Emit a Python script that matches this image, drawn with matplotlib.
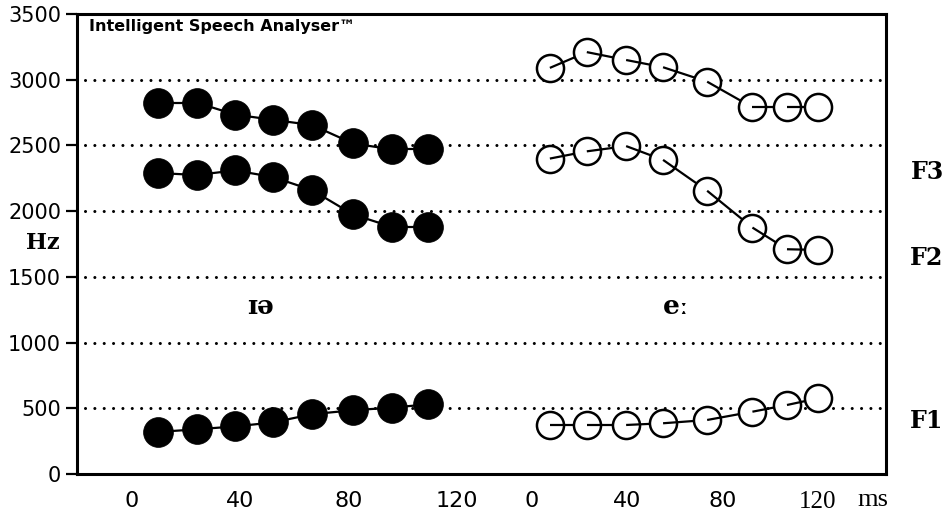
import matplotlib
matplotlib.use("Agg")
import matplotlib.pyplot as plt

# formant values (Hz), two vowels side by side
left_t = [9.6, 24, 38, 52, 66.5, 81.6, 96, 109.3]
left_f1 = [320, 340, 362, 392, 455, 485, 505, 530]
left_f2 = [2290, 2275, 2310, 2260, 2160, 1975, 1880, 1880]
left_f3 = [2825, 2825, 2735, 2695, 2655, 2515, 2470, 2470]

right_t = [7.5, 23, 39.5, 55, 73.5, 92.5, 107, 120]
right_f1 = [373, 373, 373, 386, 411, 474, 525, 576]
right_f2 = [2400, 2455, 2495, 2390, 2155, 1875, 1710, 1705]
right_f3 = [3090, 3210, 3150, 3095, 2985, 2790, 2790, 2790]

y_ticks = [0, 500, 1000, 1500, 2000, 2500, 3000, 3500]
grid_levels = [500, 1000, 1500, 2000, 2500, 3000]
ms_ticks = [0, 40, 80, 120]

W, H = 949, 518


def fx(px):
    return px / W


def fy(py):
    return 1 - py / H


fig = plt.figure(figsize=(W / 100, H / 100), dpi=100)

# ---------- frame with the Hz axis ----------
ax = fig.add_axes([fx(77), fy(474), fx(886) - fx(77), fy(14) - fy(474)])
ax.set_xlim(0, 1)
ax.set_ylim(0, 3500)
ax.set_xticks([])
ax.set_yticks(y_ticks)
ax.tick_params(axis="y", direction="out", length=8, width=1.6, pad=3.5, labelsize=15)
for s in ax.spines.values():
    s.set_linewidth(2.2)
for v in grid_levels:
    ax.axhline(v, xmin=0.01, xmax=0.993, color="black", lw=2.2,
               linestyle=(0, (0.01, 3.05)), dash_capstyle="round", zorder=1)


# ---------- the two time panels ----------
def panel(x0, x1, zero_px, px_per_ms):
    a = fig.add_axes([fx(x0), fy(474), fx(x1) - fx(x0), fy(14) - fy(474)])
    a.set_xlim((x0 - zero_px) / px_per_ms, (x1 - zero_px) / px_per_ms)
    a.set_ylim(0, 3500)
    a.patch.set_visible(False)
    for s in a.spines.values():
        s.set_visible(False)
    a.set_yticks([])
    a.set_xticks(ms_ticks)
    a.tick_params(axis="x", length=0, pad=12, labelsize=16)
    return a


def track(a, t, f, filled):
    # circle i, then the segment to i+1 on top, then circle i+1 covers its end
    for i in range(len(t)):
        a.plot(t[i], f[i], "o", ms=21.5 if filled else 19.5,
               mfc="black" if filled else "white", mec="black",
               mew=0.5 if filled else 1.8, zorder=3 + 2 * i, clip_on=False)
        if i + 1 < len(t):
            a.plot(t[i:i + 2], f[i:i + 2], color="black", lw=1.6,
                   solid_capstyle="butt", zorder=4 + 2 * i, clip_on=False)


axl = panel(77, 480, 132, 2.708)
axr = panel(490, 886, 532, 2.383)

for f in (left_f1, left_f2, left_f3):
    track(axl, left_t, f, True)
for f in (right_f1, right_f2, right_f3):
    track(axr, right_t, f, False)

axr.get_xticklabels()[-1].set_fontfamily("Liberation Serif")
axr.get_xticklabels()[-1].set_fontsize(18)

# ---------- labels ----------
fig.text(fx(89), fy(27), "Intelligent Speech Analyser™",
         fontsize=11.5, fontweight="bold", ha="left", va="center")
fig.text(fx(43), fy(243), "Hz", family="DejaVu Serif", fontweight="bold",
         fontsize=16, ha="center", va="center")
fig.text(fx(260), fy(306), "ɪə", family="DejaVu Serif", fontweight="bold",
         fontsize=19, ha="center", va="center")
fig.text(fx(676), fy(306), "eː", family="DejaVu Serif", fontweight="bold",
         fontsize=19, ha="center", va="center")
for lab, ypx in (("F3", 172), ("F2", 258), ("F1", 421)):
    fig.text(fx(927), fy(ypx), lab, family="DejaVu Serif", fontweight="bold",
             fontsize=17, ha="center", va="center")
fig.text(fx(873), fy(500), "ms", family="Liberation Serif", fontsize=19,
         ha="center", va="center")

fig.savefig("out.png", dpi=100)
